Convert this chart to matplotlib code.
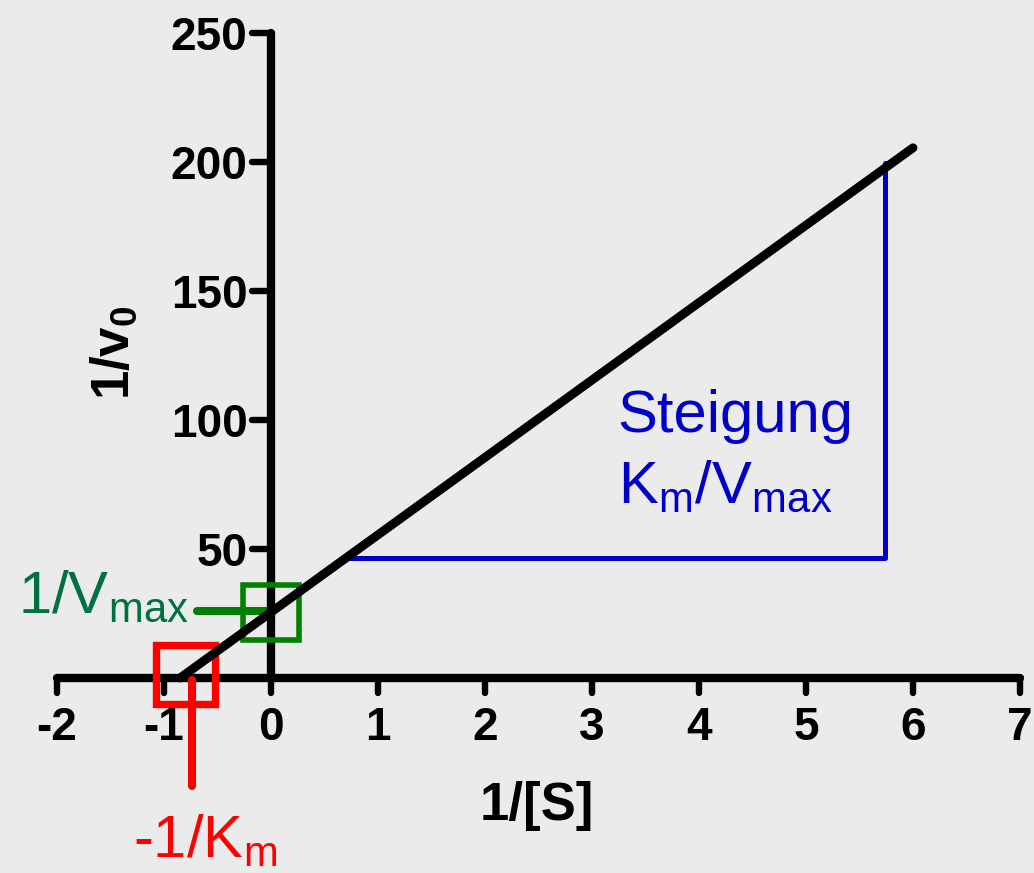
import matplotlib

matplotlib.use("Agg")
import matplotlib.pyplot as plt
from matplotlib.markers import MarkerStyle, TICKDOWN, TICKLEFT
from matplotlib.patches import Rectangle

x_ticks = [-2, -1, 0, 1, 2, 3, 4, 5, 6, 7]
y_ticks = [50, 100, 150, 200, 250]

gerade_x = [-0.85, 6.0]        # 1/[S]
gerade_y = [0.0, 205.5]        # 1/v0

steigung_x = [0.74, 5.74, 5.74]
steigung_y = [46.5, 46.5, 199.5]

vmax_box_x = [-0.26, 0.26]
vmax_box_y = [14.7, 36.0]
vmax_strich_x = [-0.69, 0.0]
vmax_strich_y = [25.8, 25.8]

km_box_x = [-1.075, -0.523]
km_box_y = [-10.0, 12.8]
km_strich_x = [-0.74, -0.74]
km_strich_y = [-0.8, -42.0]

HINTERGRUND = "#ebebeb"
BLAU = "#0000c8"
GRUEN = "#008000"
GRUEN_TEXT = "#007040"
ROT = "#ff0000"

plt.rcParams["font.family"] = ["Liberation Sans", "DejaVu Sans"]
plt.rcParams["mathtext.fontset"] = "custom"
plt.rcParams["mathtext.rm"] = "Liberation Sans"
plt.rcParams["mathtext.bf"] = "Liberation Sans:bold"
plt.rcParams["axes.unicode_minus"] = False

fig = plt.figure(figsize=(10.34, 8.73), dpi=100, facecolor=HINTERGRUND)
ax = fig.add_axes([57 / 1034, 195 / 873, 963 / 1034, 645 / 873])
ax.set_facecolor(HINTERGRUND)

ax.set_xlim(-2, 7)
ax.set_ylim(0, 250)

for seite in ["top", "right"]:
    ax.spines[seite].set_visible(False)
ax.spines["left"].set_position(("data", 0))
ax.spines["bottom"].set_position(("data", 0))
for seite in ["left", "bottom"]:
    ax.spines[seite].set_linewidth(6.0)
    ax.spines[seite].set_capstyle("round")

ax.set_xticks(x_ticks)
ax.set_yticks(y_ticks)
ax.tick_params(axis="x", direction="out", length=11, width=4.6, pad=9, labelsize=33)
ax.tick_params(axis="y", direction="out", length=14, width=4.6, pad=3, labelsize=33)
for lab in ax.get_xticklabels() + ax.get_yticklabels():
    lab.set_fontweight("bold")
for t in ax.xaxis.get_major_ticks():
    t.tick1line.set_marker(MarkerStyle(TICKDOWN, capstyle="round"))
for t in ax.yaxis.get_major_ticks():
    t.tick1line.set_marker(MarkerStyle(TICKLEFT, capstyle="round"))

ax.set_xlabel("1/[S]", fontsize=38, fontweight="bold", va="baseline")
ax.xaxis.set_label_coords(0.498, -0.220)
ax.set_ylabel(r"1/v$_\mathbf{0}$", fontsize=38, fontweight="bold", va="center")
ax.yaxis.set_label_coords(0.060, 0.505)

# Gerade
ax.plot(gerade_x, gerade_y, color="black", lw=6.4, solid_capstyle="round",
        zorder=4, clip_on=False)

# Steigungsdreieck
ax.plot(steigung_x, steigung_y, color=BLAU, lw=3.6, solid_capstyle="round",
        solid_joinstyle="round", zorder=3, clip_on=False)
ax.text(3.24, 95.3, "Steigung", color=BLAU, fontsize=43, va="baseline")
ax.text(3.24, 67.8, r"K$_\mathrm{m}$/V$_\mathrm{max}$", color=BLAU,
        fontsize=43, va="baseline")

# 1/Vmax
ax.add_patch(Rectangle((vmax_box_x[0], vmax_box_y[0]),
                       vmax_box_x[1] - vmax_box_x[0], vmax_box_y[1] - vmax_box_y[0],
                       fill=False, edgecolor=GRUEN, lw=4.0, zorder=3, clip_on=False))
ax.plot(vmax_strich_x, vmax_strich_y, color=GRUEN, lw=5.8, solid_capstyle="round",
        zorder=2, clip_on=False)
ax.text(-2.36, 25.2, r"1/V$_\mathrm{max}$", color=GRUEN_TEXT, fontsize=43,
        va="baseline", clip_on=False)

# -1/Km
ax.add_patch(Rectangle((km_box_x[0], km_box_y[0]),
                       km_box_x[1] - km_box_x[0], km_box_y[1] - km_box_y[0],
                       fill=False, edgecolor=ROT, lw=5.3, zorder=3, clip_on=False))
ax.plot(km_strich_x, km_strich_y, color=ROT, lw=5.8, solid_capstyle="round",
        zorder=3, clip_on=False)
ax.text(-1.29, -69.4, r"-1/K$_\mathrm{m}$", color=ROT, fontsize=43,
        va="baseline", clip_on=False)

fig.savefig("out.png", dpi=100, facecolor=HINTERGRUND)
